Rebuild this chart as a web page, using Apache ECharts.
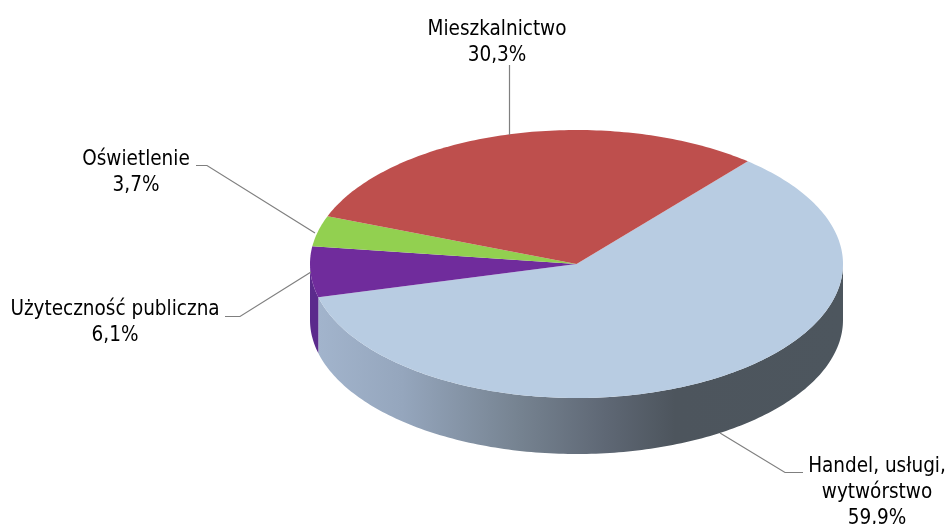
<!DOCTYPE html>
<html><head><meta charset="utf-8">
<style>html,body{margin:0;padding:0;background:#fff}#c{width:950px;height:524px}</style>
<script src="https://cdn.jsdelivr.net/npm/echarts@6/dist/echarts.min.js"></script>
</head><body><div id="c"></div>
<script>
const categories = ['Handel, usługi,\nwytwórstwo', 'Użyteczność publiczna', 'Oświetlenie', 'Mieszkalnictwo'];
const values = [59.9, 6.1, 3.7, 30.3];
const topColors = ['#b8cce2', '#702c9c', '#92d050', '#be4f4d'];
const wallColors = ['#4d565e', '#5b2a8c', '#76a840', '#983f3d'];

const cx = 576.5, cy = 264, rx = 266.5, ry = 134, depth = 56, startDeg = 40;
const labelPos = [[877, 493], [115, 323], [136, 173], [497, 43]];
const leaders = [
  [[803, 472.5], [785, 472.5], [720, 433]],
  [[225, 316.5], [240, 316.5], [311, 272]],
  [[196, 165.5], [207, 165.5], [315, 233]],
  [[509.5, 65], [509.5, 135]]
];

const total = values.reduce((a, b) => a + b, 0);
const spans = []; let acc = startDeg;
values.forEach(v => { const s = v / total * 360; spans.push([acc, acc + s]); acc += s; });
const pt = (deg, dy) => { const t = deg * Math.PI / 180; return [cx + rx * Math.sin(t), cy - ry * Math.cos(t) + (dy || 0)]; };
const arc = (a, b, dy) => { const n = Math.max(2, Math.ceil(Math.abs(b - a))), o = []; for (let i = 0; i <= n; i++) o.push(pt(a + (b - a) * i / n, dy)); return o; };
const rows = categories.map((c, i) => [i, values[i]]);
const fmt = v => v.toFixed(1).replace('.', ',') + '%';
const font = '"DejaVu Sans Condensed","DejaVu Sans",sans-serif';

const option = {
  animation: false,
  backgroundColor: '#ffffff',
  series: [
    { type: 'custom', coordinateSystem: 'none', silent: true, z: 1, data: rows,
      renderItem(p, api) {
        const i = api.value(0), a = Math.max(spans[i][0], 90), b = Math.min(spans[i][1], 270);
        if (b <= a) return { type: 'group', children: [] };
        const pts = arc(a, b, 0).concat(arc(b, a, depth));
        const fill = i === 0 ? new echarts.graphic.LinearGradient(0, 0, 1, 0, [
          { offset: 0, color: '#a2b4cc' }, { offset: 0.16, color: '#95a6bd' },
          { offset: 0.38, color: '#768391' }, { offset: 0.55, color: '#5e6774' },
          { offset: 0.68, color: '#4d555d' }, { offset: 1, color: '#4d565e' }
        ]) : wallColors[i];
        return { type: 'polygon', shape: { points: pts }, style: { fill, stroke: 'none' } };
      } },
    { type: 'custom', coordinateSystem: 'none', silent: true, z: 2, data: rows,
      renderItem(p, api) {
        const i = api.value(0);
        return { type: 'polygon', shape: { points: [[cx, cy]].concat(arc(spans[i][0], spans[i][1], 0)) },
          style: { fill: topColors[i], stroke: 'none' } };
      } },
    { type: 'custom', coordinateSystem: 'none', silent: true, z: 3, data: rows,
      renderItem(p, api) {
        const i = api.value(0);
        return { type: 'group', children: [
          { type: 'polyline', shape: { points: leaders[i] }, style: { stroke: '#7f7f7f', lineWidth: 1.2, fill: 'none' } },
          { type: 'text', x: labelPos[i][0], y: labelPos[i][1],
            style: { text: categories[i] + '\n' + fmt(api.value(1)), fill: '#000', font: '20.5px ' + font,
              lineHeight: 26, align: 'center', verticalAlign: 'middle' } }
        ] };
      } }
  ]
};
const chart = echarts.init(document.getElementById('c'), null, { renderer: 'canvas' });
chart.setOption(option);
</script></body></html>
